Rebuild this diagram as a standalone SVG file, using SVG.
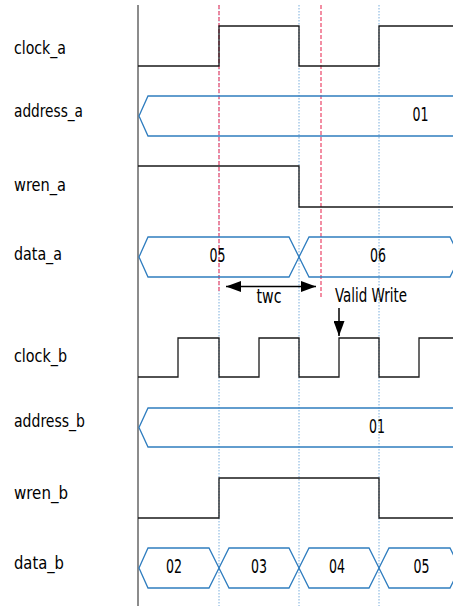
<svg xmlns="http://www.w3.org/2000/svg" width="453" height="606" viewBox="0 0 453 606">
<defs>
<style>
.lbl{font-family:"DejaVu Sans Condensed","DejaVu Sans",sans-serif;font-stretch:condensed;font-size:18px;fill:#000}
.val{font-family:"DejaVu Sans Condensed","DejaVu Sans",sans-serif;font-stretch:condensed;font-size:19.5px;fill:#000;text-anchor:middle}
.sig{fill:none;stroke:#1a1a1a;stroke-width:1.3}
.bus{fill:none;stroke:#2f7dbf;stroke-width:1.3}
.axis{stroke:#666;stroke-width:1.5}
.red{stroke:#ef6a85;stroke-width:1.5;stroke-dasharray:4 2}
.dot{stroke:#7aaedc;stroke-width:1;stroke-dasharray:1.5 1.5}
.arr{stroke:#000;stroke-width:1.5;fill:none}
</style>
<marker id="ah" viewBox="0 0 15 11" refX="15" refY="5.5" markerWidth="15" markerHeight="11" markerUnits="userSpaceOnUse" orient="auto-start-reverse">
<path d="M0,0 L15,5.5 L0,11 Z" fill="#000"/>
</marker>
</defs>
<rect width="453" height="606" fill="#fff"/>
<g id="guides">
<line class="axis" x1="138" y1="5" x2="138" y2="606"/>
<line class="dot" x1="219" y1="5" x2="219" y2="606"/>
<line class="dot" x1="299" y1="5" x2="299" y2="606"/>
<line class="dot" x1="379" y1="5" x2="379" y2="606"/>
<line class="red" x1="219" y1="5" x2="219" y2="293"/>
<line class="red" x1="321" y1="5" x2="321" y2="297"/>
</g>
<g id="clock_a">
<text class="lbl" x="14" y="54" textLength="52" lengthAdjust="spacingAndGlyphs">clock_a</text>
<path class="sig" d="M138,66 H219 V26 H299 V66 H379 V26 H453"/>
</g>
<g id="address_a">
<text class="lbl" x="14" y="117" textLength="69" lengthAdjust="spacingAndGlyphs">address_a</text>
<path class="bus" d="M460,96 H148 L139,116 L148,136 H460"/>
<text class="val" x="420.5" y="121" textLength="16" lengthAdjust="spacingAndGlyphs">01</text>
</g>
<g id="wren_a">
<text class="lbl" x="14" y="191" textLength="52" lengthAdjust="spacingAndGlyphs">wren_a</text>
<path class="sig" d="M138,166 H299 V207 H453"/>
</g>
<g id="data_a">
<text class="lbl" x="14" y="260" textLength="48" lengthAdjust="spacingAndGlyphs">data_a</text>
<path class="bus" d="M139,257 L148,237 H289 L299,257 L289,277 H148 Z"/>
<path class="bus" d="M299,257 L309,237 H450 L460,257 L450,277 H309 Z"/>
<text class="val" x="217.5" y="262" textLength="16" lengthAdjust="spacingAndGlyphs">05</text>
<text class="val" x="378" y="262" textLength="16" lengthAdjust="spacingAndGlyphs">06</text>
</g>
<g id="clock_b">
<text class="lbl" x="14" y="362" textLength="53" lengthAdjust="spacingAndGlyphs">clock_b</text>
<path class="sig" d="M138,377 H178 V338 H219 V377 H259 V338 H299 V377 H339 V338 H379 V377 H419 V338 H453"/>
</g>
<g id="address_b">
<text class="lbl" x="14" y="427" textLength="71" lengthAdjust="spacingAndGlyphs">address_b</text>
<path class="bus" d="M460,408 H148 L139,427.5 L148,447 H460"/>
<text class="val" x="377" y="432.5" textLength="16" lengthAdjust="spacingAndGlyphs">01</text>
</g>
<g id="wren_b">
<text class="lbl" x="14" y="499" textLength="54" lengthAdjust="spacingAndGlyphs">wren_b</text>
<path class="sig" d="M138,518 H219 V478 H379 V518 H453"/>
</g>
<g id="data_b">
<text class="lbl" x="14" y="569" textLength="50" lengthAdjust="spacingAndGlyphs">data_b</text>
<path class="bus" d="M139,568 L148,548 H209 L219,568 L209,588 H148 Z"/>
<path class="bus" d="M219,568 L229,548 H289 L299,568 L289,588 H229 Z"/>
<path class="bus" d="M299,568 L309,548 H369 L379,568 L369,588 H309 Z"/>
<path class="bus" d="M379,568 L389,548 H450 L460,568 L450,588 H389 Z"/>
<text class="val" x="174" y="572.5" textLength="16" lengthAdjust="spacingAndGlyphs">02</text>
<text class="val" x="259" y="572.5" textLength="16" lengthAdjust="spacingAndGlyphs">03</text>
<text class="val" x="337" y="572.5" textLength="16" lengthAdjust="spacingAndGlyphs">04</text>
<text class="val" x="421.5" y="572.5" textLength="16" lengthAdjust="spacingAndGlyphs">05</text>
</g>
<g id="connectors">
<line class="arr" x1="226" y1="286.5" x2="316" y2="286.5" marker-start="url(#ah)" marker-end="url(#ah)"/>
<line class="arr" x1="339" y1="308" x2="339" y2="336" marker-end="url(#ah)"/>
</g>
<g id="annotations">
<text class="val" x="269" y="303" textLength="25" lengthAdjust="spacingAndGlyphs">twc</text>
<text class="val" x="371" y="301.5" textLength="72" lengthAdjust="spacingAndGlyphs">Valid Write</text>
</g>
</svg>
